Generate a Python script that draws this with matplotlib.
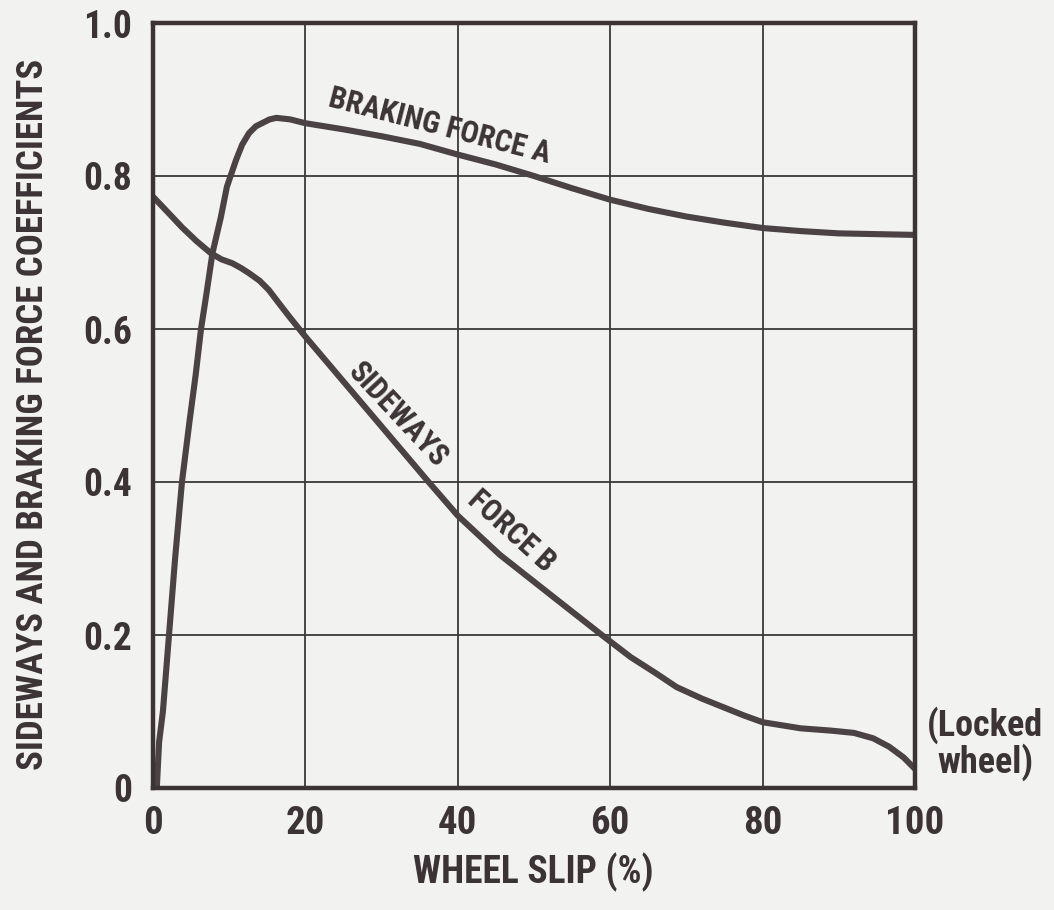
import matplotlib
matplotlib.use("Agg")
import matplotlib.pyplot as plt
from matplotlib import font_manager as fm

# ---- data ----
slip_a = [0.5, 0.8, 1.3, 2.1, 2.9, 3.8, 4.8, 5.6, 6.3, 7.0, 7.8, 8.9, 9.7,
          10.9, 11.7, 12.6, 13.5, 14.5, 15.3, 16.2, 18.0, 20, 25, 30, 35, 40,
          45, 50, 55, 60, 65, 70, 75, 80, 85, 90, 95, 100]
braking_a = [0.0, 0.06, 0.10, 0.20, 0.30, 0.40, 0.48, 0.54, 0.60, 0.645,
             0.699, 0.746, 0.786, 0.821, 0.841, 0.856, 0.865, 0.870, 0.874,
             0.876, 0.874, 0.869, 0.861, 0.852, 0.842, 0.828, 0.815, 0.800,
             0.784, 0.769, 0.757, 0.747, 0.739, 0.732, 0.728, 0.725, 0.724,
             0.723]

slip_b = [0, 2, 3.8, 5.7, 7.6, 9, 10.4, 11.5, 12.6, 14, 15.2, 16.5, 17.9, 20,
          24, 28, 32, 36, 40, 45.5, 52, 58.9, 62.7, 66, 68.7, 72, 75, 77.5,
          80, 85, 89, 92, 94.5, 96.6, 98.5, 100]
sideways_b = [0.773, 0.752, 0.733, 0.715, 0.699, 0.691, 0.686, 0.680, 0.673,
              0.663, 0.651, 0.634, 0.616, 0.59, 0.543, 0.496, 0.449, 0.402,
              0.356, 0.305, 0.254, 0.200, 0.171, 0.150, 0.132, 0.117, 0.105,
              0.095, 0.086, 0.078, 0.075, 0.072, 0.065, 0.054, 0.040, 0.025]

x_ticks = [0, 20, 40, 60, 80, 100]
x_tick_labels = ["0", "20", "40", "60", "80", "100"]
y_ticks = [0, 0.2, 0.4, 0.6, 0.8, 1.0]
y_tick_labels = ["0", "0.2", "0.4", "0.6", "0.8", "1.0"]

x_label = "WHEEL SLIP (%)"
y_label = "SIDEWAYS AND BRAKING FORCE COEFFICIENTS"
label_a = "BRAKING FORCE A"
label_b1 = "SIDEWAYS"
label_b2 = "FORCE B"
locked_label = "(Locked\nwheel)"

# ---- style ----
BG = "#f2f2f0"
INK = "#3b3336"
CURVE = "#4b4245"
names = {f.name for f in fm.fontManager.ttflist}
cond = [n for n in ["Roboto Condensed", "Open Sans Condensed",
                    "Liberation Sans Narrow", "DejaVu Sans Condensed"]
        if n in names]
FONT = cond + ["DejaVu Sans"]
plt.rcParams["font.family"] = FONT
plt.rcParams["font.weight"] = "bold"
plt.rcParams["font.stretch"] = "condensed"

fig = plt.figure(figsize=(10.54, 9.10), dpi=100, facecolor=BG)
ax = fig.add_axes([153 / 1054, 1 - 788 / 910, 762 / 1054, 765 / 910])
ax.set_facecolor(BG)

ax.plot(slip_a, braking_a, color=CURVE, lw=4.4, solid_capstyle="butt",
        solid_joinstyle="round", zorder=3)
ax.plot(slip_b, sideways_b, color=CURVE, lw=4.4, solid_capstyle="butt",
        solid_joinstyle="round", zorder=3)

ax.set_xlim(0, 100)
ax.set_ylim(0, 1.0)
ax.set_xticks(x_ticks)
ax.set_xticklabels(x_tick_labels)
ax.set_yticks(y_ticks)
ax.set_yticklabels(y_tick_labels)
ax.tick_params(length=0, colors=INK)
ax.tick_params(axis="x", pad=12, labelsize=28)
ax.tick_params(axis="y", pad=15, labelsize=27)
for lab in ax.get_xticklabels() + ax.get_yticklabels():
    lab.set_fontweight("bold")

ax.grid(True, color="#3a3a3a", lw=1.3, zorder=1)
for sp in ax.spines.values():
    sp.set_color(INK)
    sp.set_linewidth(3.2)
    sp.set_zorder(4)

fig.text(33 / 1054, 1 - 414 / 910, y_label, rotation=90, ha="center",
         va="center", fontsize=26.5, color=INK, fontweight="bold")
fig.text(533 / 1054, 1 - 872 / 910, x_label, ha="center", va="center",
         fontsize=27, color=INK, fontweight="bold")

ax.text(37.6, 0.866, label_a, rotation=-14.5, rotation_mode="anchor",
        ha="center", va="center", fontsize=22, color=INK, fontweight="bold")
ax.text(32.2, 0.488, label_b1, rotation=-47, rotation_mode="anchor",
        ha="center", va="center", fontsize=22, color=INK, fontweight="bold")
ax.text(47.0, 0.336, label_b2, rotation=-42, rotation_mode="anchor",
        ha="center", va="center", fontsize=22, color=INK, fontweight="bold")
ax.text(109.2, 0.058, locked_label, ha="center", va="center",
        multialignment="center", fontsize=26, color=INK, fontweight="bold",
        linespacing=1.0, clip_on=False)

fig.savefig("out.png", dpi=100, facecolor=BG)
